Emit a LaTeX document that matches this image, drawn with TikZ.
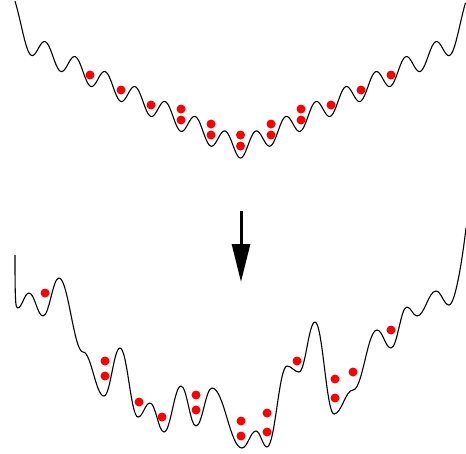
\documentclass[tikz,border=0pt]{standalone}
\usepackage{xcolor}
\usepackage{tikz}
\usetikzlibrary{arrows.meta}
\definecolor{ink}{HTML}{000000}
\definecolor{ballred}{HTML}{FF0000}

\begin{document}
\begin{tikzpicture}[x=1pt, y=-1pt,
  wave/.style={line width=1.1pt, color=ink, line join=round},
  bead/.style={circle, fill=ballred, inner sep=0pt, minimum size=9pt},
  declare function={lift(\t)=max(0,(abs(\t)-200)/25);}]
  \useasboundingbox (0,0) rectangle (466,453);
  \def\ctr{240.5}

  % smooth landscape
  \draw[wave] plot[domain=-225.5:225, samples=451, variable=\d]
    ({\ctr+\d}, {158-(5*sqrt((\d/10)^2+0.456)-3.375)-11*(1-cos(12*\d))-24*lift(\d)*lift(\d)*lift(\d)});

  \node[bead] (t1) at (90,75) {};
  \node[bead] (t2) at (121,90) {};
  \node[bead] (t3) at (151,105) {};
  \node[bead] (t4) at (181,109) {};
  \node[bead] (t5) at (181,120) {};
  \node[bead] (t6) at (211,124) {};
  \node[bead] (t7) at (211,135) {};
  \node[bead] (t8) at (240.5,135) {};
  \node[bead] (t9) at (240.5,146) {};
  \node[bead] (t10) at (271,124) {};
  \node[bead] (t11) at (271,135) {};
  \node[bead] (t12) at (301,109) {};
  \node[bead] (t13) at (301,120) {};
  \node[bead] (t14) at (331,105) {};
  \node[bead] (t15) at (361,90) {};
  \node[bead] (t16) at (391,75) {};

  \coordinate (arr-top) at (241,211);
  \coordinate (arr-tip) at (241,282);
  \draw[line width=3pt, color=ink, -{Triangle[width=18pt,length=38pt]}] (arr-top) -- (arr-tip);

  % rough landscape
  \draw[wave] (15,255) .. controls (15,300) and (15.5,308) .. (17.5,308)
    .. controls (22.1,308) and (24.4,293) .. (29,293)
    .. controls (34.6,293) and (37.4,316) .. (43,316)
    .. controls (49.4,316) and (52.6,278) .. (59,278)
    .. controls (68.2,278) and (73.8,352) .. (83,352)
    .. controls (91.4,352) and (95.6,396) .. (104,396)
    .. controls (110.4,396) and (113.6,348) .. (120,348)
    .. controls (127.2,348) and (130.8,417) .. (138,417)
    .. controls (142.8,417) and (145.2,403) .. (150,403)
    .. controls (155.6,403) and (158.4,432) .. (164,432)
    .. controls (170.8,432) and (174.2,386) .. (181,386)
    .. controls (187,386) and (190,426) .. (196,426)
    .. controls (202.4,426) and (205.6,388) .. (212,388)
    .. controls (224,388) and (230,448) .. (242,448)
    .. controls (247.6,448) and (250.4,431) .. (256,431)
    .. controls (260.4,431) and (262.6,447) .. (267,447)
    .. controls (275,447) and (279,366) .. (287,366)
    .. controls (291.8,366) and (294.2,372) .. (299,372)
    .. controls (305.4,372) and (308.6,322) .. (315,322)
    .. controls (322.6,322) and (326.4,414) .. (334,414)
    .. controls (341.6,414) and (345.4,390) .. (353,390)
    .. controls (362.6,390) and (367.4,330) .. (377,330)
    .. controls (382.6,330) and (385.4,348) .. (391,348)
    .. controls (397.4,348) and (400.6,307) .. (407,307)
    .. controls (411,307) and (413,316) .. (417,316)
    .. controls (424.6,316) and (428.4,291) .. (436,291)
    .. controls (441.2,291) and (443.8,305) .. (449,305)
    .. controls (455,305) and (462,262) .. (466,228);

  \node[bead] (b1) at (45,293) {};
  \node[bead] (b2) at (105,361) {};
  \node[bead] (b3) at (105,376) {};
  \node[bead] (b4) at (139,402) {};
  \node[bead] (b5) at (162,417) {};
  \node[bead] (b6) at (196,395) {};
  \node[bead] (b7) at (196,410) {};
  \node[bead] (b8) at (241,421) {};
  \node[bead] (b9) at (241,436) {};
  \node[bead] (b10) at (267,413) {};
  \node[bead] (b11) at (267,432) {};
  \node[bead] (b12) at (297,361) {};
  \node[bead] (b13) at (335,379) {};
  \node[bead] (b14) at (335,398) {};
  \node[bead] (b15) at (353,372) {};
  \node[bead] (b16) at (391,330) {};
\end{tikzpicture}
\end{document}
